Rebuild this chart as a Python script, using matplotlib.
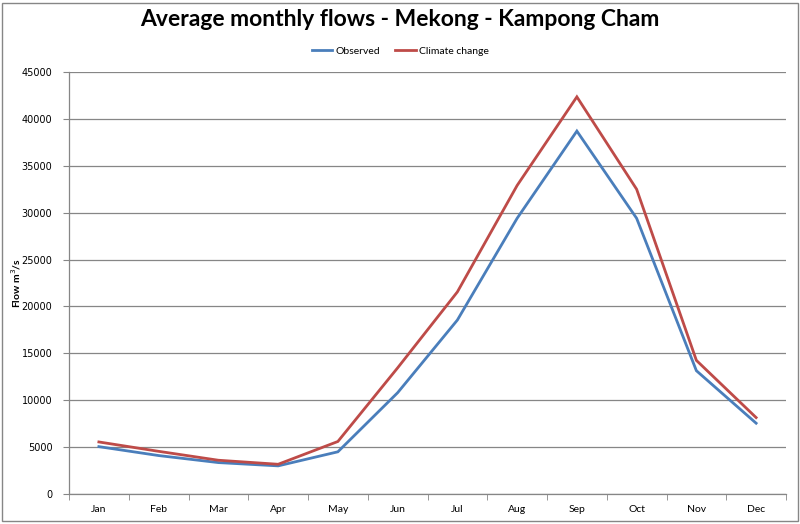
import matplotlib
matplotlib.use("Agg")
import matplotlib.pyplot as plt
from matplotlib.patches import Rectangle

months = ["Jan", "Feb", "Mar", "Apr", "May", "Jun", "Jul", "Aug", "Sep", "Oct", "Nov", "Dec"]
observed = [5050, 4100, 3350, 3000, 4500, 10800, 18550, 29400, 38700, 29400, 13150, 7550]
climate_change = [5550, 4550, 3600, 3170, 5600, 13450, 21550, 32900, 42350, 32500, 14250, 8150]
yticks = [0, 5000, 10000, 15000, 20000, 25000, 30000, 35000, 40000, 45000]

fig = plt.figure(figsize=(8, 5.24), dpi=100)
ax = fig.add_axes([69/800, 1 - 494/524, (786 - 69)/800, (494 - 72)/524])

x = list(range(len(months)))
ax.plot(x, observed, color="#4A7EBB", lw=2.0, label="Observed", solid_joinstyle="miter")
ax.plot(x, climate_change, color="#BE4B48", lw=2.0, label="Climate change", solid_joinstyle="miter")

ax.set_xlim(-0.5, len(months) - 0.5)
ax.set_ylim(0, 45000)
ax.set_yticks(yticks)
ax.set_yticklabels([str(v) for v in yticks], fontsize=7, family="DejaVu Sans")
ax.set_xticks(x)
ax.set_xticklabels(months, fontsize=7.5, family="Lato")
ax.set_xticks([i + 0.5 for i in range(-1, len(months))], minor=True)
ax.tick_params(axis="x", which="major", length=0, pad=8)
ax.tick_params(axis="x", which="minor", length=4, color="#868686", direction="out")
ax.tick_params(axis="y", length=4, color="#868686", direction="out", pad=8)

ax.grid(axis="y", color="#868686", lw=0.9)
ax.set_axisbelow(True)
for s in ["top", "right"]:
    ax.spines[s].set_visible(False)
for s in ["left", "bottom"]:
    ax.spines[s].set_color("#868686")
    ax.spines[s].set_linewidth(0.9)

ax.set_ylabel("Flow m$^3$/s", fontsize=7.5, fontweight="bold", family="Lato")
ax.yaxis.set_label_coords((23 - 69) / 717, 0.5)

fig.text(0.5, 1 - 20/524, "Average monthly flows - Mekong - Kampong Cham",
         ha="center", va="center", fontsize=16.5, fontweight="bold", family="Lato")

leg = fig.legend(loc="center", bbox_to_anchor=(0.5, 1 - 51/524), ncol=2, frameon=False,
                 prop={"family": "Lato", "size": 7.5}, handlelength=2.0, handletextpad=0.3,
                 columnspacing=1.4)

fig.patches.append(Rectangle((2/800, 3/524), 796/800, 518/524, transform=fig.transFigure,
                             fill=False, edgecolor="#868686", lw=1.0))

fig.savefig("out.png", dpi=100)
